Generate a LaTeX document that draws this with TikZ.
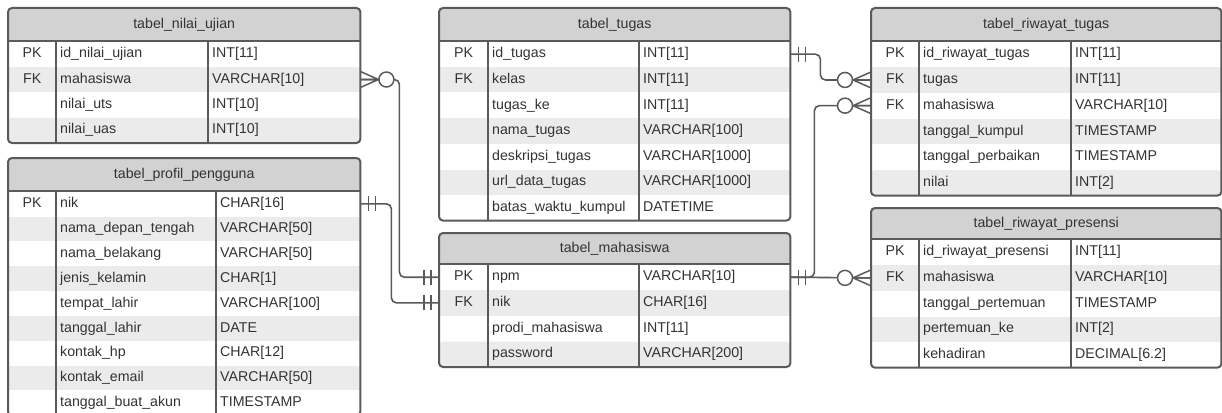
\documentclass[tikz,border=0pt]{standalone}
\usepackage{fontspec}
\setmainfont{Liberation Sans}
\usetikzlibrary{positioning}
\usetikzlibrary{chains}
\definecolor{erline}{HTML}{5A5A5A}
\definecolor{erhead}{HTML}{D2D2D2}
\definecolor{erband}{HTML}{EBEBEB}
\definecolor{ertext}{HTML}{333333}
\tikzset{erframe/.style={draw=erline,line width=2pt},
  conn/.style={draw=erline,line width=1.6pt,rounded corners=5pt},
  zeromany/.pic={\draw[erline,line width=1.5pt] (0,-8) -- (18,0) -- (0,8) (0,0) -- (18,0);
    \draw[erline,line width=1.5pt,fill=white] (26,0) circle (7.5pt);},
  onlyone/.pic={\draw[erline,line width=1.5pt] (8,-7.5) -- (8,7.5) (15,-7.5) -- (15,7.5);}}
\newcommand{\erow}[3]{\makebox[\colkey]{#1}\makebox[\colfield][l]{\hspace{4pt}#2}\makebox[\coltype][l]{\hspace{4pt}#3}}

\begin{document}
\begin{tikzpicture}[x=1pt,y=-1pt]
  \tikzstyle{tabhead}=[on chain,fill=erhead,inner sep=0pt,rounded corners=4pt,text=ertext,font=\fontsize{14.2pt}{16pt}\selectfont]
  \tikzstyle{tabrow}=[on chain,fill=white,inner sep=0pt,minimum height=\rowh,text=ertext,font=\fontsize{14.2pt}{16pt}\selectfont]
  \tikzstyle{band}=[fill=erband]
  \useasboundingbox (0,0) rectangle (1222,412);

  % tabel_nilai_ujian
  \begin{scope}[start chain=nuchain going below,node distance=0pt]
    \def\colkey{48pt}\def\colfield{152pt}\def\coltype{152pt}\def\rowh{25pt}
    \node [tabhead,minimum width=352pt,minimum height=33pt,anchor=north west] (nu-h) at (8,8) {tabel\_nilai\_ujian};
    \node [tabrow] (nu-1) {\erow{PK}{id\_nilai\_ujian}{INT[11]}};
    \node [tabrow,band] (nu-2) {\erow{FK}{mahasiswa}{VARCHAR[10]}};
    \node [tabrow] (nu-3) {\erow{}{nilai\_uts}{INT[10]}};
    \node [tabrow,band,rounded corners=4pt] (nu-4) {\erow{}{nilai\_uas}{INT[10]}};
  \end{scope}
  \draw [erframe,rounded corners=4pt] (nu-h.north west) rectangle (nu-4.south east);
  \draw [erframe] (nu-h.south west) -- (nu-h.south east);
  \draw [erframe] ([xshift=48pt]nu-1.north west) -- ([xshift=48pt]nu-4.south west);
  \draw [erframe] ([xshift=200pt]nu-1.north west) -- ([xshift=200pt]nu-4.south west);

  % tabel_profil_pengguna
  \begin{scope}[start chain=ppchain going below,node distance=0pt]
    \def\colkey{48pt}\def\colfield{160pt}\def\coltype{144pt}\def\rowh{24.5pt}
    \node [tabhead,minimum width=352pt,minimum height=33pt,anchor=north west] (pp-h) at (8,158) {tabel\_profil\_pengguna};
    \node [tabrow] (pp-1) {\erow{PK}{nik}{CHAR[16]}};
    \node [tabrow,band] (pp-2) {\erow{}{nama\_depan\_tengah}{VARCHAR[50]}};
    \node [tabrow] (pp-3) {\erow{}{nama\_belakang}{VARCHAR[50]}};
    \node [tabrow,band] (pp-4) {\erow{}{jenis\_kelamin}{CHAR[1]}};
    \node [tabrow] (pp-5) {\erow{}{tempat\_lahir}{VARCHAR[100]}};
    \node [tabrow,band] (pp-6) {\erow{}{tanggal\_lahir}{DATE}};
    \node [tabrow] (pp-7) {\erow{}{kontak\_hp}{CHAR[12]}};
    \node [tabrow,band] (pp-8) {\erow{}{kontak\_email}{VARCHAR[50]}};
    \node [tabrow] (pp-9) {\erow{}{tanggal\_buat\_akun}{TIMESTAMP}};
  \end{scope}
  \draw [erframe,rounded corners=4pt] (pp-h.north west) rectangle (pp-9.south east);
  \draw [erframe] (pp-h.south west) -- (pp-h.south east);
  \draw [erframe] ([xshift=48pt]pp-1.north west) -- ([xshift=48pt]pp-9.south west);
  \draw [erframe] ([xshift=208pt]pp-1.north west) -- ([xshift=208pt]pp-9.south west);

  % tabel_tugas
  \begin{scope}[start chain=tgchain going below,node distance=0pt]
    \def\colkey{49pt}\def\colfield{151pt}\def\coltype{151pt}\def\rowh{25.2pt}
    \node [tabhead,minimum width=351pt,minimum height=33pt,anchor=north west] (tg-h) at (439,8) {tabel\_tugas};
    \node [tabrow] (tg-1) {\erow{PK}{id\_tugas}{INT[11]}};
    \node [tabrow,band] (tg-2) {\erow{FK}{kelas}{INT[11]}};
    \node [tabrow] (tg-3) {\erow{}{tugas\_ke}{INT[11]}};
    \node [tabrow,band] (tg-4) {\erow{}{nama\_tugas}{VARCHAR[100]}};
    \node [tabrow] (tg-5) {\erow{}{deskripsi\_tugas}{VARCHAR[1000]}};
    \node [tabrow,band] (tg-6) {\erow{}{url\_data\_tugas}{VARCHAR[1000]}};
    \node [tabrow,rounded corners=4pt] (tg-7) {\erow{}{batas\_waktu\_kumpul}{DATETIME}};
  \end{scope}
  \draw [erframe,rounded corners=4pt] (tg-h.north west) rectangle (tg-7.south east);
  \draw [erframe] (tg-h.south west) -- (tg-h.south east);
  \draw [erframe] ([xshift=49pt]tg-1.north west) -- ([xshift=49pt]tg-7.south west);
  \draw [erframe] ([xshift=200pt]tg-1.north west) -- ([xshift=200pt]tg-7.south west);

  % tabel_mahasiswa
  \begin{scope}[start chain=mhchain going below,node distance=0pt]
    \def\colkey{49pt}\def\colfield{151pt}\def\coltype{151pt}\def\rowh{25.25pt}
    \node [tabhead,minimum width=351pt,minimum height=31pt,anchor=north west] (mh-h) at (439,233) {tabel\_mahasiswa};
    \node [tabrow] (mh-1) {\erow{PK}{npm}{VARCHAR[10]}};
    \node [tabrow,band] (mh-2) {\erow{FK}{nik}{CHAR[16]}};
    \node [tabrow] (mh-3) {\erow{}{prodi\_mahasiswa}{INT[11]}};
    \node [tabrow,band,rounded corners=4pt] (mh-4) {\erow{}{password}{VARCHAR[200]}};
  \end{scope}
  \draw [erframe,rounded corners=4pt] (mh-h.north west) rectangle (mh-4.south east);
  \draw [erframe] (mh-h.south west) -- (mh-h.south east);
  \draw [erframe] ([xshift=49pt]mh-1.north west) -- ([xshift=49pt]mh-4.south west);
  \draw [erframe] ([xshift=200pt]mh-1.north west) -- ([xshift=200pt]mh-4.south west);

  % tabel_riwayat_tugas
  \begin{scope}[start chain=rtchain going below,node distance=0pt]
    \def\colkey{48pt}\def\colfield{152pt}\def\coltype{150pt}\def\rowh{25.3pt}
    \node [tabhead,minimum width=350pt,minimum height=33pt,anchor=north west] (rt-h) at (871,8) {tabel\_riwayat\_tugas};
    \node [tabrow] (rt-1) {\erow{PK}{id\_riwayat\_tugas}{INT[11]}};
    \node [tabrow,band] (rt-2) {\erow{FK}{tugas}{INT[11]}};
    \node [tabrow] (rt-3) {\erow{FK}{mahasiswa}{VARCHAR[10]}};
    \node [tabrow,band] (rt-4) {\erow{}{tanggal\_kumpul}{TIMESTAMP}};
    \node [tabrow] (rt-5) {\erow{}{tanggal\_perbaikan}{TIMESTAMP}};
    \node [tabrow,band,rounded corners=4pt] (rt-6) {\erow{}{nilai}{INT[2]}};
  \end{scope}
  \draw [erframe,rounded corners=4pt] (rt-h.north west) rectangle (rt-6.south east);
  \draw [erframe] (rt-h.south west) -- (rt-h.south east);
  \draw [erframe] ([xshift=48pt]rt-1.north west) -- ([xshift=48pt]rt-6.south west);
  \draw [erframe] ([xshift=200pt]rt-1.north west) -- ([xshift=200pt]rt-6.south west);

  % tabel_riwayat_presensi
  \begin{scope}[start chain=rpchain going below,node distance=0pt]
    \def\colkey{48pt}\def\colfield{152pt}\def\coltype{150pt}\def\rowh{25.25pt}
    \node [tabhead,minimum width=350pt,minimum height=31pt,anchor=north west] (rp-h) at (871,208) {tabel\_riwayat\_presensi};
    \node [tabrow] (rp-1) {\erow{PK}{id\_riwayat\_presensi}{INT[11]}};
    \node [tabrow,band] (rp-2) {\erow{FK}{mahasiswa}{VARCHAR[10]}};
    \node [tabrow] (rp-3) {\erow{}{tanggal\_pertemuan}{TIMESTAMP}};
    \node [tabrow,band] (rp-4) {\erow{}{pertemuan\_ke}{INT[2]}};
    \node [tabrow,rounded corners=4pt] (rp-5) {\erow{}{kehadiran}{DECIMAL[6.2]}};
  \end{scope}
  \draw [erframe,rounded corners=4pt] (rp-h.north west) rectangle (rp-5.south east);
  \draw [erframe] (rp-h.south west) -- (rp-h.south east);
  \draw [erframe] ([xshift=48pt]rp-1.north west) -- ([xshift=48pt]rp-5.south west);
  \draw [erframe] ([xshift=200pt]rp-1.north west) -- ([xshift=200pt]rp-5.south west);

  % relations
  \draw [conn] (nu-2.east) -- ++(39,0) |- (mh-1.west);
  \draw [conn] (pp-1.east) -- ++(31,0) |- (mh-2.west);
  \draw [conn] (tg-1.east) -- ++(30,0) |- (rt-2.west);
  \draw [conn] (mh-1.east) -- ++(24,0) |- (rt-3.west);
  \draw [conn] (mh-1.east) -- (rp-2.west);

  \pic at (nu-2.east) {zeromany};
  \pic [xscale=-1] at (mh-1.west) {onlyone};
  \pic at (pp-1.east) {onlyone};
  \pic [xscale=-1] at (mh-2.west) {onlyone};
  \pic at (tg-1.east) {onlyone};
  \pic [xscale=-1] at (rt-2.west) {zeromany};
  \pic at (mh-1.east) {onlyone};
  \pic [xscale=-1] at (rt-3.west) {zeromany};
  \pic [xscale=-1] at (rp-2.west) {zeromany};
\end{tikzpicture}
\end{document}
